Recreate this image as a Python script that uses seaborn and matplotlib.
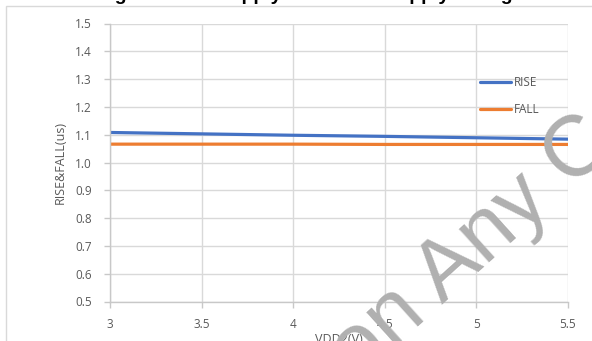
import matplotlib
matplotlib.use("Agg")
import matplotlib.pyplot as plt
import seaborn as sns
import pandas as pd
from matplotlib.patches import Rectangle

# Supply voltage sweep and measured transition times
vdd2 = [3.0, 3.5, 4.0, 4.5, 5.0, 5.5]
rise_us = [1.108, 1.103, 1.098, 1.094, 1.089, 1.084]
fall_us = [1.066, 1.066, 1.066, 1.065, 1.065, 1.065]
series_names = ["RISE", "FALL"]
series_colors = {"RISE": "#4472C4", "FALL": "#ED7D31"}
x_ticks = [3, 3.5, 4, 4.5, 5, 5.5]
y_ticks = [0.5, 0.6, 0.7, 0.8, 0.9, 1.0, 1.1, 1.2, 1.3, 1.4, 1.5]

df = pd.DataFrame({
    "VDD2": vdd2 * 2,
    "value": rise_us + fall_us,
    "series": [series_names[0]] * len(vdd2) + [series_names[1]] * len(vdd2),
})

sns.set_theme(style="white")
plt.rcParams["font.family"] = ["Open Sans", "DejaVu Sans"]

W, H = 592, 341
fig = plt.figure(figsize=(W / 100, H / 100), dpi=100)
ax = fig.add_axes([110 / W, 1 - 301.5 / H, (568 - 110) / W, (301.5 - 23.5) / H])

grid_c = "#d9d9d9"
text_c = "#595959"

sns.lineplot(data=df, x="VDD2", y="value", hue="series", hue_order=series_names,
             palette=series_colors, linewidth=2.3, ax=ax, legend=True)

ax.set_xlim(3, 5.5)
ax.set_ylim(0.5, 1.5)
ax.set_xticks(x_ticks)
ax.set_xticklabels([f"{v:g}" for v in x_ticks])
ax.set_yticks(y_ticks)
ax.set_yticklabels([f"{v:.1f}" for v in y_ticks])
ax.grid(True, color=grid_c, linewidth=1.0)
ax.set_axisbelow(True)
for side in ["top", "right"]:
    ax.spines[side].set_visible(False)
for side in ["left", "bottom"]:
    ax.spines[side].set_color("#c8c8c8")
    ax.spines[side].set_linewidth(1.0)
ax.tick_params(axis="both", which="major", length=4, width=1.0, color="#c8c8c8",
               labelcolor=text_c, labelsize=8.5, direction="out", left=True, bottom=True)
ax.tick_params(axis="y", pad=9)
ax.tick_params(axis="x", pad=8)

ax.set_xlabel("VDD2(V)", fontsize=9, color=text_c, labelpad=1)
ax.set_ylabel("RISE&FALL(us)", fontsize=9, color=text_c, labelpad=6)

leg = ax.legend(loc="upper left", bbox_to_anchor=(480 / W, 1 - 76 / H),
                bbox_transform=fig.transFigure, frameon=False, fontsize=8.5,
                handlelength=2.6, handletextpad=0.3, labelspacing=1.2,
                borderpad=0, borderaxespad=0)
for t in leg.get_texts():
    t.set_color(text_c)
for h in leg.get_lines():
    h.set_linewidth(2.3)

# chart frame
fig.patches.append(Rectangle((6 / W, -0.1), 1.2, 1 - 6 / H + 0.1, transform=fig.transFigure,
                             fill=False, edgecolor=grid_c, linewidth=1.0))

# chart title, running past the top edge
fig.text(0.495, 1.0, "Timing vs VDD1 Supply and VDD2 Supply Voltage", ha="center",
         va="baseline", fontsize=14, fontweight="bold", color="black",
         family=["Liberation Sans", "DejaVu Sans"])

# overlay stamp
fig.text(472 / W, 1 - 248 / H, "on Any C", rotation=42, fontsize=62, color="#b0b0b0",
         ha="center", va="center", rotation_mode="anchor",
         family=["Liberation Sans", "DejaVu Sans"], zorder=20)

fig.savefig("out.png", dpi=100)
